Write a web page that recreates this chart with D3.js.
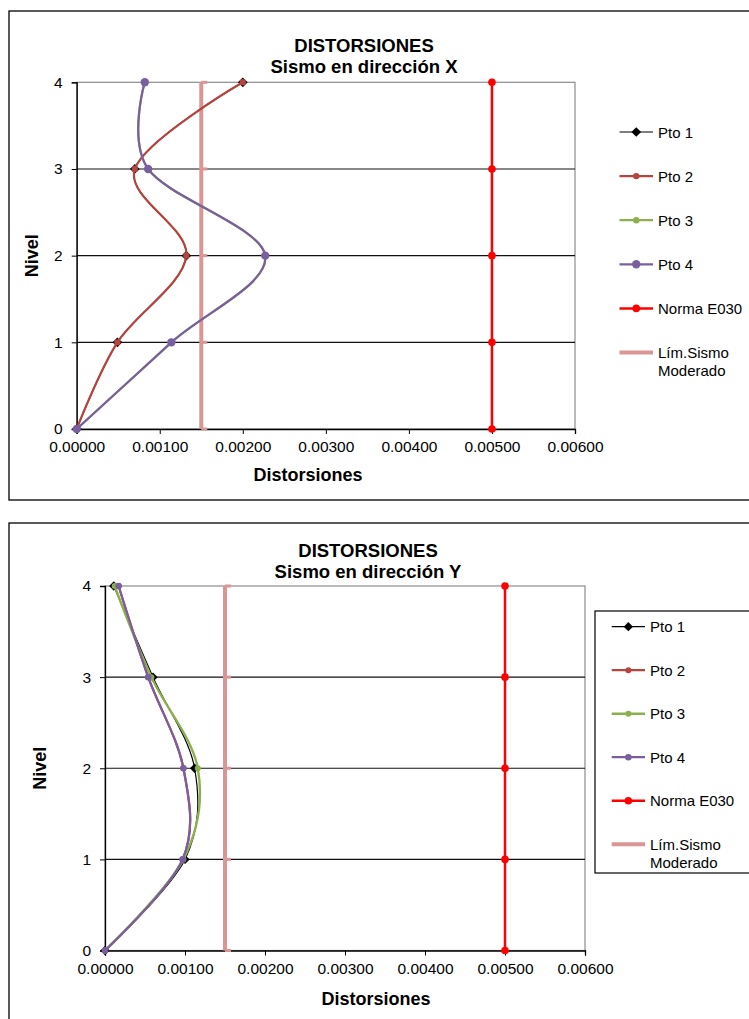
<!DOCTYPE html>
<html>
<head>
<meta charset="utf-8">
<script src="https://cdn.jsdelivr.net/npm/d3@7"></script>
<style>
  body { margin: 0; background: #fff; }
  svg { font-family: "Liberation Sans", Arial, sans-serif; }
</style>
</head>
<body>
<svg id="chart" width="749" height="1019"></svg>
<script>
// niveles (eje Y)
var levels = [0, 1, 2, 3, 4];
var xTicks = [0, 0.001, 0.002, 0.003, 0.004, 0.005, 0.006];

// Sismo en direccion X
var pto1X = [0, 0.00049, 0.00132, 0.00070, 0.00200];
var pto2X = [0, 0.00049, 0.00132, 0.00070, 0.00200];
var pto3X = [0, 0.00114, 0.00227, 0.00086, 0.00082];
var pto4X = [0, 0.00114, 0.00227, 0.00086, 0.00082];

// Sismo en direccion Y
var pto1Y = [0, 0.00100, 0.00112, 0.00060, 0.00011];
var pto2Y = [0, 0.00097, 0.00098, 0.00054, 0.00017];
var pto3Y = [0, 0.00098, 0.00116, 0.00058, 0.00012];
var pto4Y = [0, 0.00097, 0.00098, 0.00054, 0.00017];

var normaE030 = [0.005, 0.005, 0.005, 0.005, 0.005];
var limSismoModerado = [0.0015, 0.0015, 0.0015, 0.0015, 0.0015];

var seriesNames = ["Pto 1", "Pto 2", "Pto 3", "Pto 4", "Norma E030", "Lím.Sismo Moderado"];

var svg = d3.select("#chart");

function drawChart(cfg) {
    var g = svg.append("g");

    // marco
    g.append("rect")
        .attr("x", cfg.frame[0]).attr("y", cfg.frame[1])
        .attr("width", cfg.frame[2]).attr("height", cfg.frame[3])
        .attr("fill", "#fff").attr("stroke", "#000").attr("stroke-width", 1.3);

    var x = d3.scaleLinear().domain([0, 0.006]).range([cfg.left, cfg.right]);
    var y = d3.scaleLinear().domain([0, 4]).range([cfg.bottom, cfg.top]);

    // plot area border (gris)
    g.append("rect")
        .attr("x", cfg.left).attr("y", cfg.top)
        .attr("width", cfg.right - cfg.left).attr("height", cfg.bottom - cfg.top)
        .attr("fill", "none").attr("stroke", "#8c8c8c").attr("stroke-width", 1.2);

    // gridlines
    g.append("g").selectAll("line")
        .data([1, 2, 3]).enter().append("line")
        .attr("x1", cfg.left).attr("x2", cfg.right)
        .attr("y1", function(d) { return y(d); })
        .attr("y2", function(d) { return y(d); })
        .attr("stroke", "#111").attr("stroke-width", 1.2);

    // ejes
    g.append("g")
        .attr("transform", "translate(0," + cfg.bottom + ")")
        .call(d3.axisBottom(x).tickValues(xTicks).tickSizeOuter(0).tickSize(5).tickPadding(7)
            .tickFormat(d3.format(".5f")))
        .call(function(a) {
            a.select(".domain").attr("stroke", "#000").attr("stroke-width", 1.3);
            a.selectAll(".tick line").attr("stroke", "#000");
            a.selectAll("text").attr("font-size", 15.5).attr("fill", "#000").attr("font-family", "Liberation Sans, Arial");
        });

    g.append("g")
        .attr("transform", "translate(" + cfg.left + ",0)")
        .call(d3.axisLeft(y).tickValues(levels).tickSizeOuter(0).tickSize(5).tickPadding(9)
            .tickFormat(d3.format("d")))
        .call(function(a) {
            a.select(".domain").attr("stroke", "#000").attr("stroke-width", 1.3);
            a.selectAll(".tick line").attr("stroke", "#000");
            a.selectAll("text").attr("font-size", 15.5).attr("fill", "#000").attr("font-family", "Liberation Sans, Arial");
        });

    // titulos
    g.append("text").attr("x", cfg.titleX).attr("y", cfg.titleY)
        .attr("text-anchor", "middle").attr("font-size", 18.5).attr("font-weight", "bold")
        .text("DISTORSIONES");
    g.append("text").attr("x", cfg.titleX).attr("y", cfg.titleY + 21)
        .attr("text-anchor", "middle").attr("font-size", 18.5).attr("font-weight", "bold")
        .text(cfg.subtitle);
    g.append("text").attr("x", cfg.xTitleX).attr("y", cfg.xTitleY)
        .attr("text-anchor", "middle").attr("font-size", 18).attr("font-weight", "bold")
        .text("Distorsiones");
    g.append("text")
        .attr("transform", "translate(" + cfg.yTitleX + "," + (cfg.top + cfg.bottom) / 2 + ") rotate(-90)")
        .attr("text-anchor", "middle").attr("dy", "0.35em")
        .attr("font-size", 18).attr("font-weight", "bold")
        .text("Nivel");

    var line = d3.line()
        .x(function(d) { return x(d[0]); })
        .y(function(d) { return y(d[1]); })
        .curve(d3.curveCardinal.tension(0));
    var straight = d3.line()
        .x(function(d) { return x(d[0]); })
        .y(function(d) { return y(d[1]); });

    function pts(vals) { return vals.map(function(v, i) { return [v, levels[i]]; }); }

    // Lim. sismo moderado
    var lim = pts(limSismoModerado);
    g.append("path").attr("d", straight(lim)).attr("fill", "none")
        .attr("stroke", "#d99694").attr("stroke-width", 4);
    g.append("g").selectAll("rect").data(lim).enter().append("rect")
        .attr("x", function(d) { return x(d[0]); })
        .attr("y", function(d) { return y(d[1]) - 1.5; })
        .attr("width", 6).attr("height", 3).attr("fill", "#d99694");

    // Norma E030
    var nor = pts(normaE030);
    g.append("path").attr("d", straight(nor)).attr("fill", "none")
        .attr("stroke", "#ff0000").attr("stroke-width", 2.5);
    g.append("g").selectAll("circle").data(nor).enter().append("circle")
        .attr("cx", function(d) { return x(d[0]); })
        .attr("cy", function(d) { return y(d[1]); })
        .attr("r", 3.8).attr("fill", "#ff0000");

    var styles = cfg.styles;
    cfg.series.forEach(function(vals, i) {
        var p = pts(vals), s = styles[i];
        g.append("path").attr("d", line(p)).attr("fill", "none")
            .attr("stroke", s.color).attr("stroke-width", s.width);
        if (s.marker === "diamond") {
            g.append("g").selectAll("path").data(p).enter().append("path")
                .attr("d", d3.symbol().type(d3.symbolDiamond2).size(s.size)())
                .attr("transform", function(d) { return "translate(" + x(d[0]) + "," + y(d[1]) + ")"; })
                .attr("fill", s.color);
        } else {
            g.append("g").selectAll("circle").data(p).enter().append("circle")
                .attr("cx", function(d) { return x(d[0]); })
                .attr("cy", function(d) { return y(d[1]); })
                .attr("r", s.r).attr("fill", s.color);
        }
    });

    // leyenda
    var lg = cfg.legend;
    if (lg.box) {
        g.append("rect").attr("x", lg.box[0]).attr("y", lg.box[1])
            .attr("width", lg.box[2]).attr("height", lg.box[3])
            .attr("fill", "#fff").attr("stroke", "#000").attr("stroke-width", 1.2);
    }
    var legendStyles = styles.concat([
        { color: "#ff0000", width: 2.5, marker: "circle", r: 3.8 },
        { color: "#d99694", width: 4, marker: "none" }
    ]);
    seriesNames.forEach(function(name, i) {
        var cy = lg.y0 + i * lg.step, s = legendStyles[i];
        var e = g.append("g");
        e.append("line").attr("x1", lg.x1).attr("x2", lg.x2).attr("y1", cy).attr("y2", cy)
            .attr("stroke", s.color).attr("stroke-width", i === 0 ? 1.2 : s.width);
        var mx = (lg.x1 + lg.x2) / 2;
        if (s.marker === "diamond") {
            e.append("path").attr("d", d3.symbol().type(d3.symbolDiamond2).size(s.size)())
                .attr("transform", "translate(" + mx + "," + cy + ")").attr("fill", s.color);
        } else if (s.marker === "circle") {
            e.append("circle").attr("cx", mx).attr("cy", cy).attr("r", s.r).attr("fill", s.color);
        }
        var t = e.append("text").attr("x", lg.tx).attr("y", cy + 5.5).attr("font-size", 15);
        if (name === "Lím.Sismo Moderado") {
            t.append("tspan").text("Lím.Sismo");
            t.append("tspan").attr("x", lg.tx).attr("dy", 18).text("Moderado");
        } else {
            t.text(name);
        }
    });
}

drawChart({
    frame: [9, 11, 760, 489],
    left: 76.7, right: 575, top: 82.3, bottom: 429,
    titleX: 364, titleY: 52, subtitle: "Sismo en dirección X",
    xTitleX: 308, xTitleY: 481, yTitleX: 32,
    series: [pto1X, pto2X, pto3X, pto4X],
    styles: [
        { color: "#000", width: 1.2, marker: "diamond", size: 60 },
        { color: "#b5433e", width: 2.2, marker: "circle", r: 3.2 },
        { color: "#8db04f", width: 2.2, marker: "circle", r: 3.2 },
        { color: "#7a5fa0", width: 2.2, marker: "circle", r: 4.2 }
    ],
    legend: { box: null, x1: 619.5, x2: 653, tx: 658, y0: 132, step: 44.1 }
});

drawChart({
    frame: [9, 523, 760, 520],
    left: 105, right: 585, top: 586, bottom: 950.5,
    titleX: 368, titleY: 557, subtitle: "Sismo en dirección Y",
    xTitleX: 376, xTitleY: 1005, yTitleX: 40,
    series: [pto1Y, pto2Y, pto3Y, pto4Y],
    styles: [
        { color: "#000", width: 1.2, marker: "diamond", size: 55 },
        { color: "#b5433e", width: 2.2, marker: "circle", r: 3 },
        { color: "#8db04f", width: 2.4, marker: "circle", r: 3 },
        { color: "#7a5fa0", width: 2.2, marker: "circle", r: 3.3 }
    ],
    legend: { box: [595, 611, 170, 262], x1: 611.7, x2: 645, tx: 650, y0: 626.7, step: 43.5 }
});
</script>
</body>
</html>
